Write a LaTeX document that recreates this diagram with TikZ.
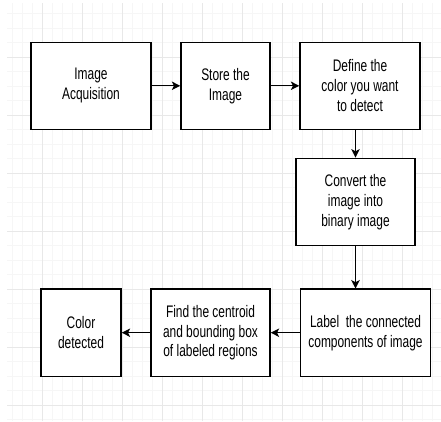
\documentclass[tikz,border=0pt]{standalone}
\usepackage{fontspec}
\setmainfont{Liberation Sans}
\newfontfamily\stagefont[FakeStretch=0.714]{Liberation Sans}
\usetikzlibrary{arrows.meta,positioning}
\definecolor{gridminor}{HTML}{F6F6F6}
\definecolor{gridmajor}{HTML}{E8E8E8}

\begin{document}
\begin{tikzpicture}[>={Stealth[length=6pt,width=6pt,inset=1.5pt]}]
	\tikzset{stage/.style={draw, line width=1pt, fill=white, align=center, inner sep=1pt, minimum height=2.175cm, font=\stagefont\fontsize{11.9}{14.2}\selectfont}}
	\useasboundingbox (0,0) rectangle (11.025,10.525);
	% background grid
	\begin{scope}
		\clip (0.175,0) rectangle (11.025,10.425);
		\foreach \x in {0.05,0.3,...,11.1} \draw[gridminor, line width=0.4pt] (\x,0) -- (\x,10.525);
		\foreach \y in {0.0375,0.4,...,10.5} \draw[gridminor, line width=0.4pt] (0,\y) -- (11.025,\y);
		\foreach \x in {0.05,1.05,...,11.1} \draw[gridmajor, line width=0.5pt] (\x,0) -- (\x,10.525);
		\foreach \y in {0.4,1.85,...,10.5} \draw[gridmajor, line width=0.5pt] (0,\y) -- (11.025,\y);
	\end{scope}
	% top row
	\node[stage, minimum width=3cm] (acq) at (2.275,8.38) {Image\\Acquisition};
	\node[stage, minimum width=2.225cm] (store) at (5.6375,8.38) {Store the\\Image};
	\node[stage, minimum width=3cm] (define) at (9.0,8.38) {Define the\\color you want\\to detect};
	% middle
	\node[stage, minimum width=2.975cm] (convert) at (8.8875,5.48) {Convert the\\image into\\binary image};
	% bottom row
	\node[stage, minimum width=3.25cm] (label) at (9.1375,2.2075) {Label\ \ the connected\\components of image};
	\node[stage, minimum width=2.975cm] (find) at (5.2625,2.2075) {Find the centroid\\and bounding box\\of labeled regions};
	\node[stage, minimum width=2cm] (color) at (2.025,2.2075) {Color\\detected};
	% connectors
	\draw[->, line width=0.9pt] (acq) -- (store);
	\draw[->, line width=0.9pt] (store) -- (define);
	\draw[->, line width=0.9pt] (define.south -| convert.north) -- (convert.north);
	\draw[->, line width=0.9pt] (convert.south) -- (convert.south |- label.north);
	\draw[->, line width=0.9pt] (label) -- (find);
	\draw[->, line width=0.9pt] (find) -- (color);
\end{tikzpicture}
\end{document}
